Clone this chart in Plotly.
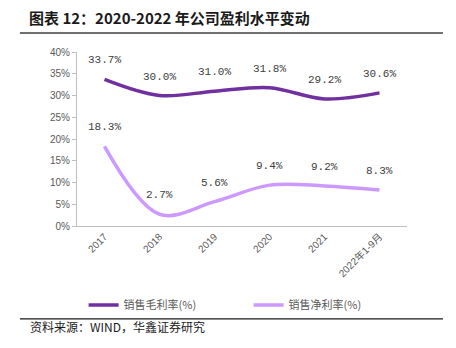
import plotly.graph_objects as go

categories = ["2017", "2018", "2019", "2020", "2021", "2022年1-9月"]
gross_margin = [33.7, 30.0, 31.0, 31.8, 29.2, 30.6]
net_margin = [18.3, 2.7, 5.6, 9.4, 9.2, 8.3]
series_names = ["销售毛利率(%)", "销售净利率(%)"]
y_ticks = [0, 5, 10, 15, 20, 25, 30, 35, 40]
y_tick_labels = [f"{v}%" for v in y_ticks]

colors = ["#7030A0", "#CC99FF"]
cjk = "Noto Sans CJK SC"

fig = go.Figure()
for name, vals, c in zip(series_names, [gross_margin, net_margin], colors):
    fig.add_trace(go.Scatter(
        x=list(range(len(categories))), y=vals, name=name, mode="lines",
        line=dict(color=c, width=3.5, shape="spline", smoothing=1.0),
        hoverinfo="skip",
    ))
    for i, v in enumerate(vals):
        fig.add_annotation(
            x=i, y=v, text=f"{v:.1f}%", showarrow=False, yshift=19,
            font=dict(family="Liberation Mono", size=11, color="#404040"),
        )

# title, rules and source
fig.add_annotation(
    xref="paper", yref="paper", x=-0.152, y=1.201, xanchor="left", yanchor="middle",
    text="<b>图表 12：2020-2022 年公司盈利水平变动</b>", showarrow=False,
    font=dict(family=cjk, size=15, color="#1a1a1a"),
)
fig.add_annotation(
    xref="paper", yref="paper", x=-0.149, y=-0.58, xanchor="left", yanchor="middle",
    text="资料来源：WIND，华鑫证券研究", showarrow=False,
    font=dict(family=cjk, size=12, color="#1a1a1a"),
)
fig.add_shape(type="line", xref="paper", yref="paper", x0=-0.173, x1=1.109,
              y0=1.109, y1=1.109, line=dict(color="#404040", width=1.5))
fig.add_shape(type="line", xref="paper", yref="paper", x0=-0.173, x1=1.109,
              y0=-0.534, y1=-0.534, line=dict(color="#1a1a1a", width=1.2))

fig.update_layout(
    width=456, height=348,
    margin=dict(l=77, r=49, t=52, b=122),
    paper_bgcolor="white", plot_bgcolor="white",
    showlegend=True,
    legend=dict(
        orientation="h", x=0.02, y=-0.454, xanchor="left", yanchor="middle",
        font=dict(family=cjk, size=11, color="#595959"),
        itemwidth=30, entrywidth=120, entrywidthmode="pixels",
        bgcolor="rgba(0,0,0,0)",
    ),
    xaxis=dict(
        showline=True, linecolor="#BFBFBF", linewidth=1,
        showgrid=False, ticks="", tickangle=-45, zeroline=False,
        tickvals=list(range(len(categories))), ticktext=categories,
        tickfont=dict(family="Liberation Sans, " + cjk, size=10, color="#595959"),
        range=[-0.5, 5.5],
    ),
    yaxis=dict(
        range=[0, 40], tickvals=y_ticks, ticktext=y_tick_labels,
        showline=True, linecolor="#BFBFBF", linewidth=1,
        ticks="outside", ticklen=4, tickcolor="#BFBFBF",
        showgrid=False, zeroline=False,
        tickfont=dict(family="Liberation Sans", size=10, color="#595959"),
    ),
)

fig.write_html("out.html")
